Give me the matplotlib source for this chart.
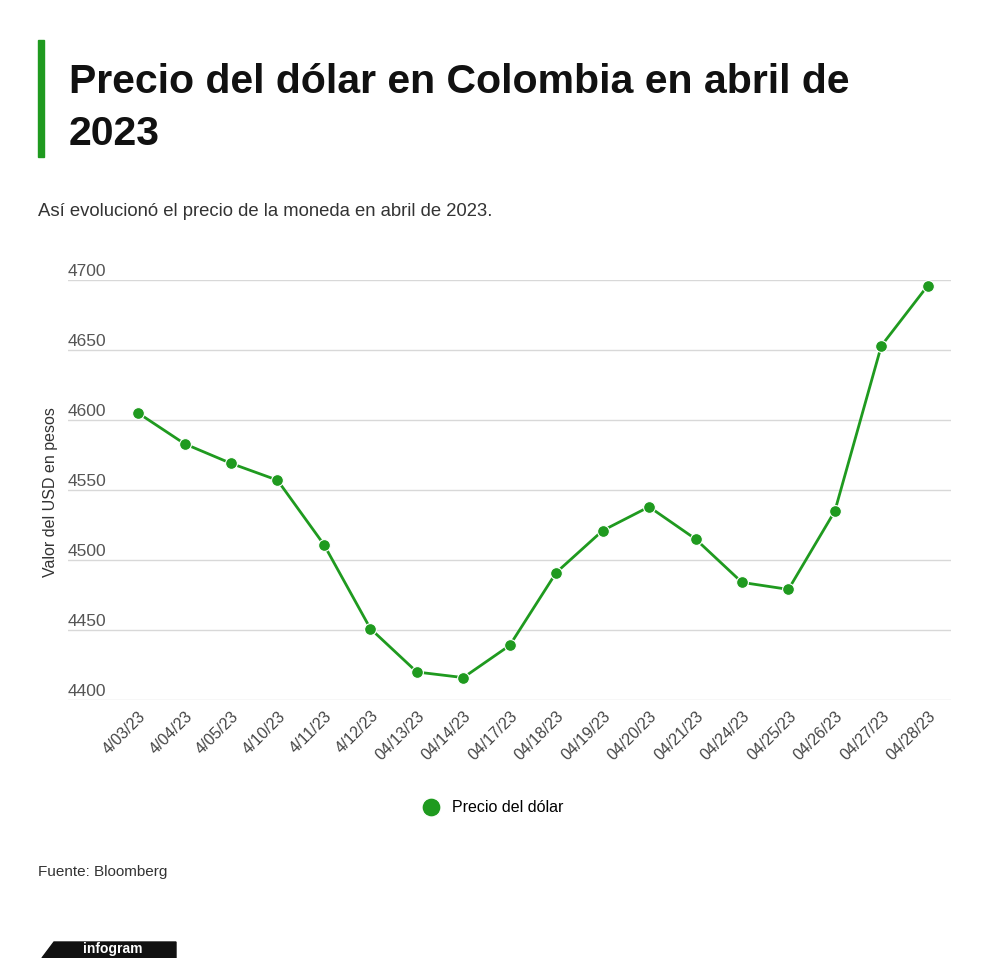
import matplotlib.pyplot as plt
from matplotlib.patches import Rectangle, Polygon

# data
fechas = ['4/03/23', '4/04/23', '4/05/23', '4/10/23', '4/11/23', '4/12/23',
          '04/13/23', '04/14/23', '04/17/23', '04/18/23', '04/19/23', '04/20/23',
          '04/21/23', '04/24/23', '04/25/23', '04/26/23', '04/27/23', '04/28/23']
precio = [4605, 4583, 4569, 4557, 4511, 4451, 4420, 4416, 4439, 4491,
          4521, 4538, 4515, 4484, 4479, 4535, 4653, 4696]
y_ticks = [4400, 4450, 4500, 4550, 4600, 4650, 4700]

verde = '#1f9a1f'
gris = '#333333'
plt.rcParams['font.family'] = ['Liberation Sans', 'DejaVu Sans']

fig = plt.figure(figsize=(10, 9.58), dpi=100)
W, H = 1000, 958

def fx(px):
    return px / W

def fy(py):
    return 1 - py / H

# title block
fig.patches.append(Rectangle((fx(38), fy(157)), fx(6), (157 - 40) / H,
                             transform=fig.transFigure, color=verde))
fig.text(fx(69), fy(93), 'Precio del dólar en Colombia en abril de',
         fontsize=29.5, fontweight='bold', color='#111111', va='baseline')
fig.text(fx(69), fy(145), '2023',
         fontsize=29.5, fontweight='bold', color='#111111', va='baseline')
fig.text(fx(38), fy(211), 'Así evolucionó el precio de la moneda en abril de 2023.',
         fontsize=13.3, color=gris, va='center')

# chart
ax = fig.add_axes([fx(68), fy(700), fx(951 - 68), (700 - 280) / H])
x = list(range(len(fechas)))
ax.plot(x, precio, color=verde, lw=2, marker='o', ms=8.5, mfc=verde, mec='white',
        mew=0.8, clip_on=False, zorder=3, label='Precio del dólar')
ax.set_ylim(4400, 4700)
ax.set_xlim(-1.51, 17.5)
ax.set_yticks(y_ticks)
ax.tick_params(axis='y', length=0, labelleft=False)
ax.grid(axis='y', color='#d8d8d8', lw=1)
ax.set_axisbelow(True)
for s in ax.spines.values():
    s.set_visible(False)
trans = ax.get_yaxis_transform()
for v in y_ticks:
    ax.text(0, v + 1, str(v), transform=trans, ha='left', va='bottom',
            fontsize=12.5, color='#555555')
ax.set_xticks(x)
ax.set_xticklabels(fechas, rotation=45, ha='right', va='top',
                   rotation_mode='anchor', fontsize=11.5, color='#444444')
ax.tick_params(axis='x', length=0, pad=6)
fig.text(fx(51), fy(492), 'Valor del USD en pesos', rotation=90, fontsize=11.5,
         color=gris, ha='center', va='center')

# legend
fig.legend(handles=[ax.lines[0]], loc='center', bbox_to_anchor=(fx(494), fy(808)),
           frameon=False, fontsize=11.5, handlelength=0.8, handletextpad=0.9,
           markerscale=1.6)
fig.text(fx(38), fy(872), 'Fuente: Bloomberg', fontsize=11, color=gris, va='center')

# infogram badge
fig.patches.append(Polygon([(fx(42), fy(958)), (fx(54), fy(942)), (fx(176), fy(942)),
                            (fx(176), fy(958))], closed=True,
                           transform=fig.transFigure, color='#111111'))
fig.text(fx(113), fy(956), 'infogram', fontsize=10, fontweight='bold', color='white',
         ha='center', va='bottom')

fig.savefig('out.png', dpi=100, facecolor='white')
